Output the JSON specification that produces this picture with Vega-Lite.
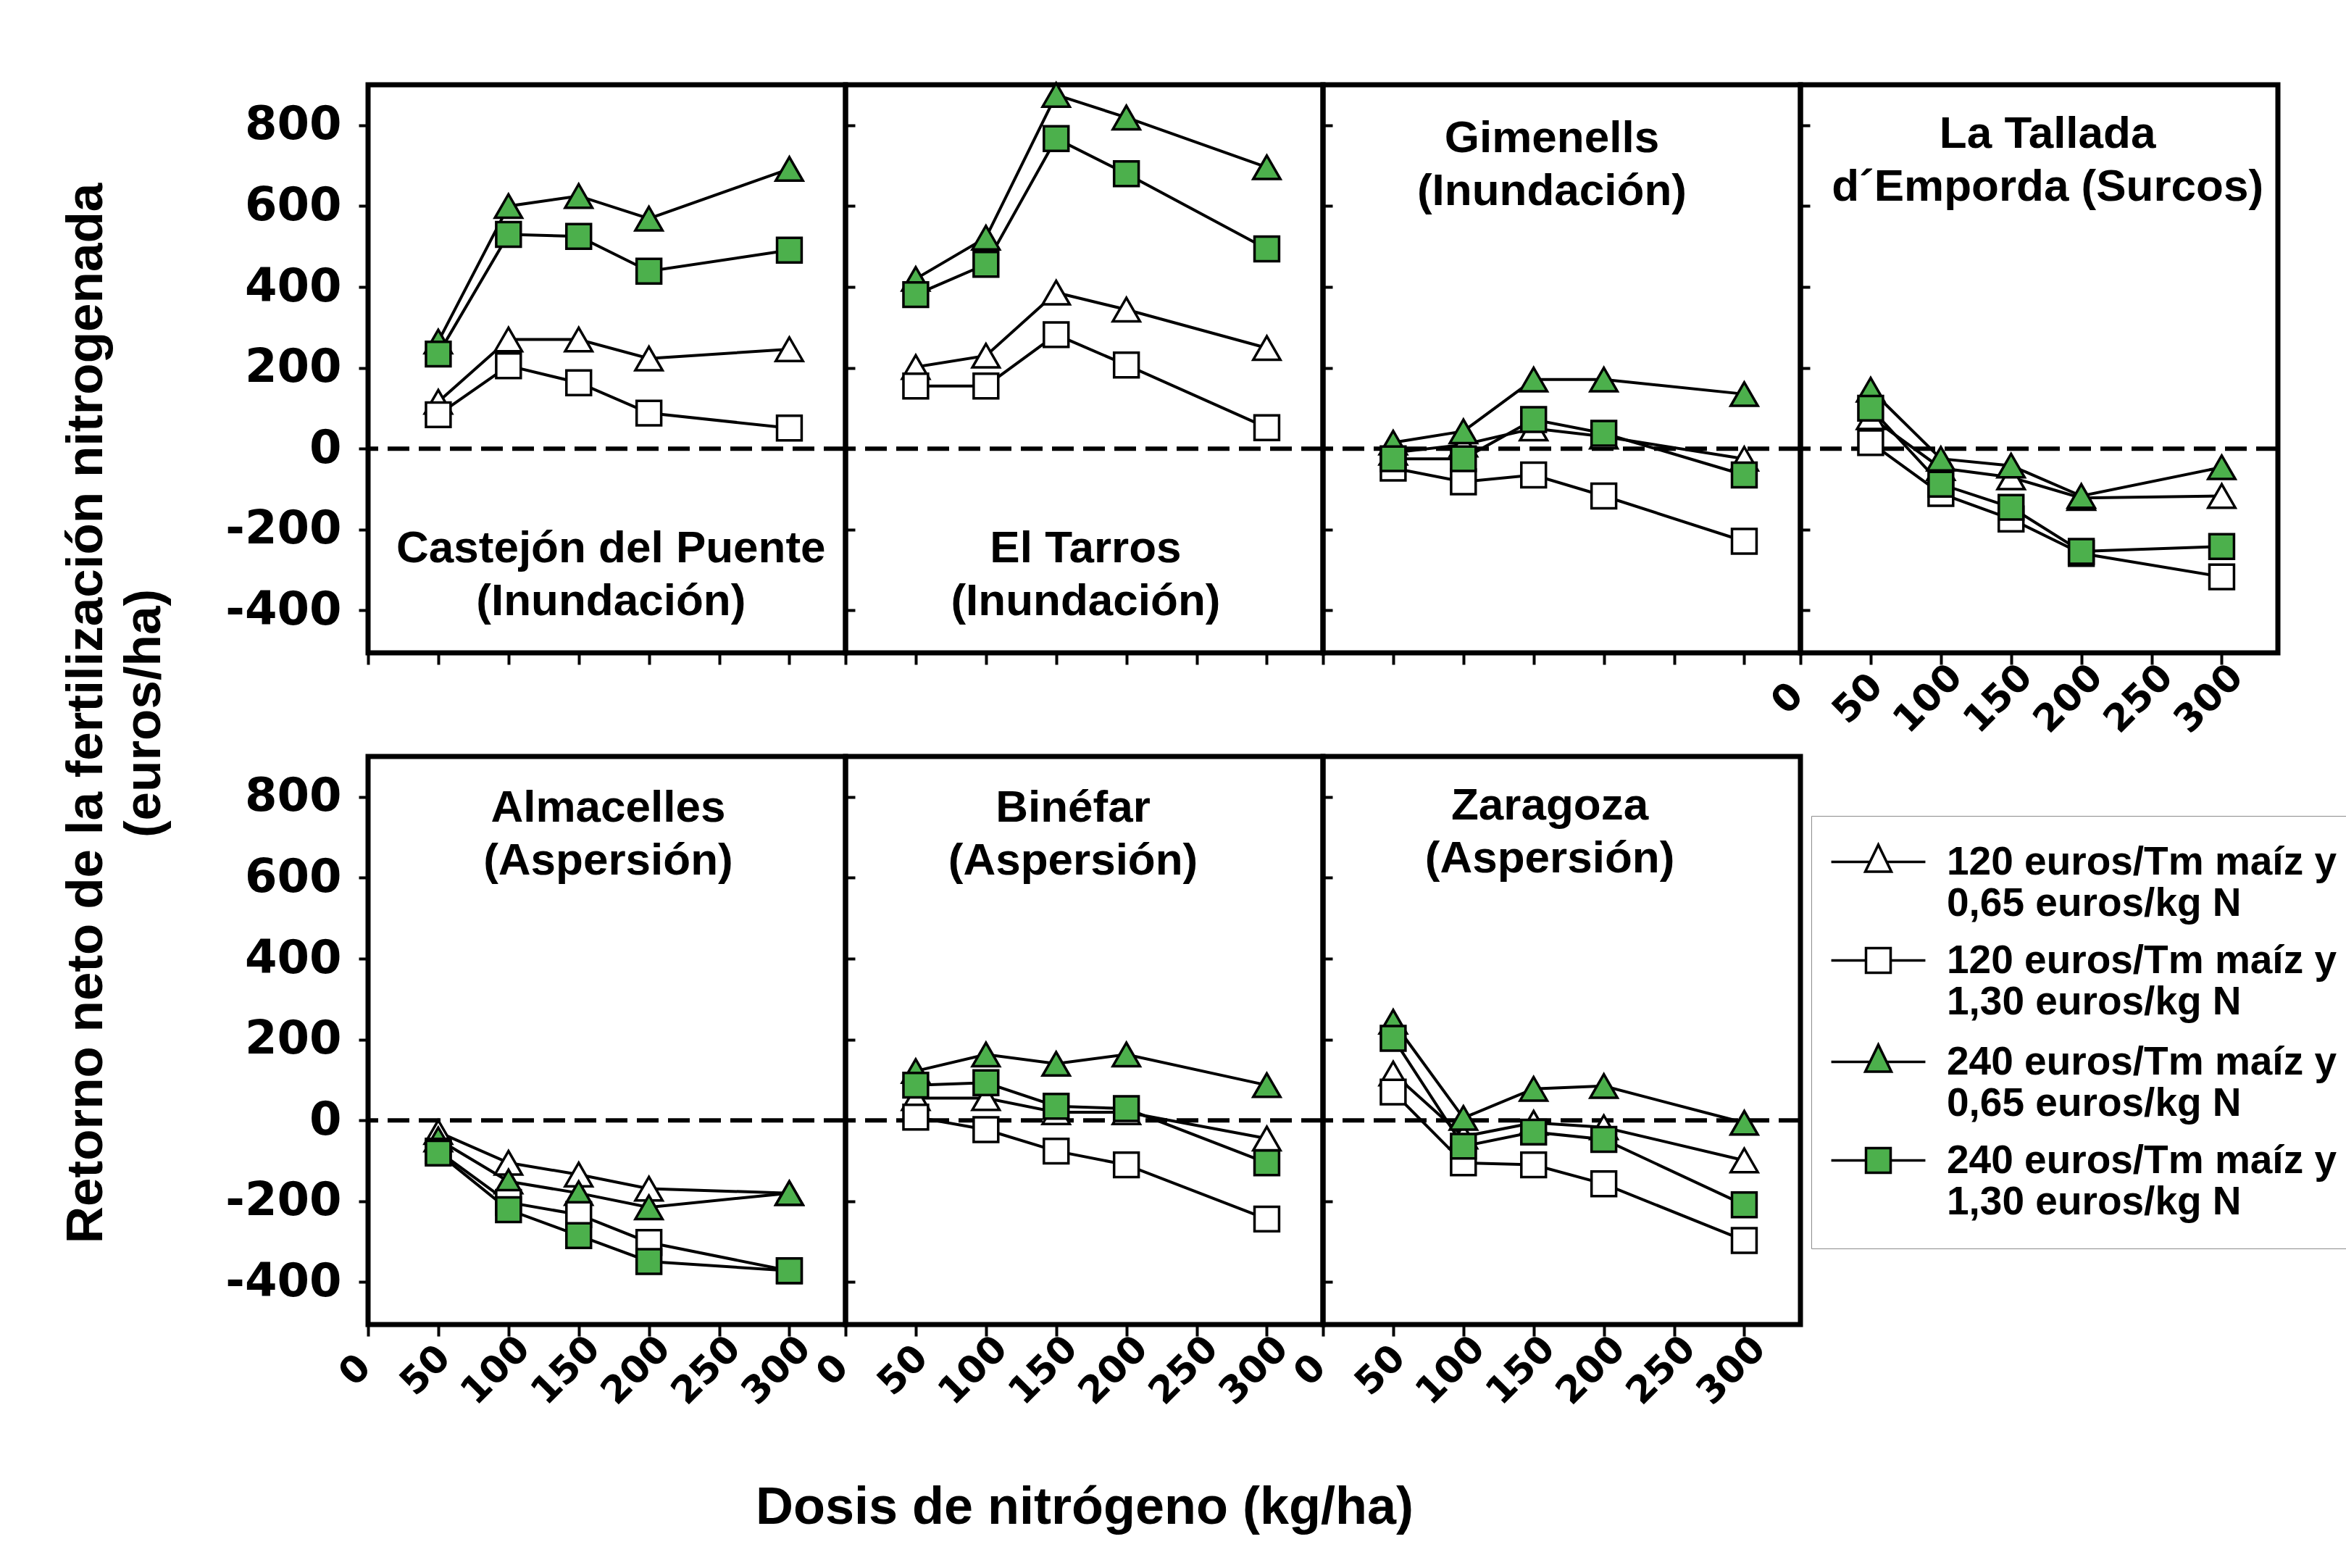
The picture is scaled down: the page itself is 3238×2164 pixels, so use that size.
{
  "$schema": "https://vega.github.io/schema/vega-lite/v6.json",
  "autosize": {"type": "pad"},
  "padding": {"left": 79, "top": 104, "right": 0, "bottom": 0},
  "background": "white",
  "bounds": "flush",
  "columns": 4,
  "spacing": {"row": 143, "column": 0},
  "datasets": {
    "d": [
      {"sitio": "Castejón del Puente", "serie": "120 euros/Tm maíz y 0,65 euros/kg N", "dosis": 50, "retorno": 116},
      {"sitio": "Castejón del Puente", "serie": "120 euros/Tm maíz y 0,65 euros/kg N", "dosis": 100, "retorno": 270},
      {"sitio": "Castejón del Puente", "serie": "120 euros/Tm maíz y 0,65 euros/kg N", "dosis": 150, "retorno": 270},
      {"sitio": "Castejón del Puente", "serie": "120 euros/Tm maíz y 0,65 euros/kg N", "dosis": 200, "retorno": 223},
      {"sitio": "Castejón del Puente", "serie": "120 euros/Tm maíz y 0,65 euros/kg N", "dosis": 300, "retorno": 246},
      {"sitio": "Castejón del Puente", "serie": "120 euros/Tm maíz y 1,30 euros/kg N", "dosis": 50, "retorno": 84},
      {"sitio": "Castejón del Puente", "serie": "120 euros/Tm maíz y 1,30 euros/kg N", "dosis": 100, "retorno": 205},
      {"sitio": "Castejón del Puente", "serie": "120 euros/Tm maíz y 1,30 euros/kg N", "dosis": 150, "retorno": 163},
      {"sitio": "Castejón del Puente", "serie": "120 euros/Tm maíz y 1,30 euros/kg N", "dosis": 200, "retorno": 88},
      {"sitio": "Castejón del Puente", "serie": "120 euros/Tm maíz y 1,30 euros/kg N", "dosis": 300, "retorno": 51},
      {"sitio": "Castejón del Puente", "serie": "240 euros/Tm maíz y 0,65 euros/kg N", "dosis": 50, "retorno": 265},
      {"sitio": "Castejón del Puente", "serie": "240 euros/Tm maíz y 0,65 euros/kg N", "dosis": 100, "retorno": 600},
      {"sitio": "Castejón del Puente", "serie": "240 euros/Tm maíz y 0,65 euros/kg N", "dosis": 150, "retorno": 625},
      {"sitio": "Castejón del Puente", "serie": "240 euros/Tm maíz y 0,65 euros/kg N", "dosis": 200, "retorno": 569},
      {"sitio": "Castejón del Puente", "serie": "240 euros/Tm maíz y 0,65 euros/kg N", "dosis": 300, "retorno": 692},
      {"sitio": "Castejón del Puente", "serie": "240 euros/Tm maíz y 1,30 euros/kg N", "dosis": 50, "retorno": 234},
      {"sitio": "Castejón del Puente", "serie": "240 euros/Tm maíz y 1,30 euros/kg N", "dosis": 100, "retorno": 530},
      {"sitio": "Castejón del Puente", "serie": "240 euros/Tm maíz y 1,30 euros/kg N", "dosis": 150, "retorno": 525},
      {"sitio": "Castejón del Puente", "serie": "240 euros/Tm maíz y 1,30 euros/kg N", "dosis": 200, "retorno": 439},
      {"sitio": "Castejón del Puente", "serie": "240 euros/Tm maíz y 1,30 euros/kg N", "dosis": 300, "retorno": 491},

      {"sitio": "El Tarros", "serie": "120 euros/Tm maíz y 0,65 euros/kg N", "dosis": 50, "retorno": 202},
      {"sitio": "El Tarros", "serie": "120 euros/Tm maíz y 0,65 euros/kg N", "dosis": 100, "retorno": 230},
      {"sitio": "El Tarros", "serie": "120 euros/Tm maíz y 0,65 euros/kg N", "dosis": 150, "retorno": 386},
      {"sitio": "El Tarros", "serie": "120 euros/Tm maíz y 0,65 euros/kg N", "dosis": 200, "retorno": 344},
      {"sitio": "El Tarros", "serie": "120 euros/Tm maíz y 0,65 euros/kg N", "dosis": 300, "retorno": 249},
      {"sitio": "El Tarros", "serie": "120 euros/Tm maíz y 1,30 euros/kg N", "dosis": 50, "retorno": 155},
      {"sitio": "El Tarros", "serie": "120 euros/Tm maíz y 1,30 euros/kg N", "dosis": 100, "retorno": 155},
      {"sitio": "El Tarros", "serie": "120 euros/Tm maíz y 1,30 euros/kg N", "dosis": 150, "retorno": 282},
      {"sitio": "El Tarros", "serie": "120 euros/Tm maíz y 1,30 euros/kg N", "dosis": 200, "retorno": 207},
      {"sitio": "El Tarros", "serie": "120 euros/Tm maíz y 1,30 euros/kg N", "dosis": 300, "retorno": 52},
      {"sitio": "El Tarros", "serie": "240 euros/Tm maíz y 0,65 euros/kg N", "dosis": 50, "retorno": 420},
      {"sitio": "El Tarros", "serie": "240 euros/Tm maíz y 0,65 euros/kg N", "dosis": 100, "retorno": 522},
      {"sitio": "El Tarros", "serie": "240 euros/Tm maíz y 0,65 euros/kg N", "dosis": 150, "retorno": 875},
      {"sitio": "El Tarros", "serie": "240 euros/Tm maíz y 0,65 euros/kg N", "dosis": 200, "retorno": 819},
      {"sitio": "El Tarros", "serie": "240 euros/Tm maíz y 0,65 euros/kg N", "dosis": 300, "retorno": 696},
      {"sitio": "El Tarros", "serie": "240 euros/Tm maíz y 1,30 euros/kg N", "dosis": 50, "retorno": 381},
      {"sitio": "El Tarros", "serie": "240 euros/Tm maíz y 1,30 euros/kg N", "dosis": 100, "retorno": 456},
      {"sitio": "El Tarros", "serie": "240 euros/Tm maíz y 1,30 euros/kg N", "dosis": 150, "retorno": 767},
      {"sitio": "El Tarros", "serie": "240 euros/Tm maíz y 1,30 euros/kg N", "dosis": 200, "retorno": 680},
      {"sitio": "El Tarros", "serie": "240 euros/Tm maíz y 1,30 euros/kg N", "dosis": 300, "retorno": 494},

      {"sitio": "Gimenells", "serie": "120 euros/Tm maíz y 0,65 euros/kg N", "dosis": 50, "retorno": -10},
      {"sitio": "Gimenells", "serie": "120 euros/Tm maíz y 0,65 euros/kg N", "dosis": 100, "retorno": 10},
      {"sitio": "Gimenells", "serie": "120 euros/Tm maíz y 0,65 euros/kg N", "dosis": 150, "retorno": 50},
      {"sitio": "Gimenells", "serie": "120 euros/Tm maíz y 0,65 euros/kg N", "dosis": 200, "retorno": 30},
      {"sitio": "Gimenells", "serie": "120 euros/Tm maíz y 0,65 euros/kg N", "dosis": 300, "retorno": -25},
      {"sitio": "Gimenells", "serie": "120 euros/Tm maíz y 1,30 euros/kg N", "dosis": 50, "retorno": -48},
      {"sitio": "Gimenells", "serie": "120 euros/Tm maíz y 1,30 euros/kg N", "dosis": 100, "retorno": -82},
      {"sitio": "Gimenells", "serie": "120 euros/Tm maíz y 1,30 euros/kg N", "dosis": 150, "retorno": -65},
      {"sitio": "Gimenells", "serie": "120 euros/Tm maíz y 1,30 euros/kg N", "dosis": 200, "retorno": -117},
      {"sitio": "Gimenells", "serie": "120 euros/Tm maíz y 1,30 euros/kg N", "dosis": 300, "retorno": -229},
      {"sitio": "Gimenells", "serie": "240 euros/Tm maíz y 0,65 euros/kg N", "dosis": 50, "retorno": 15},
      {"sitio": "Gimenells", "serie": "240 euros/Tm maíz y 0,65 euros/kg N", "dosis": 100, "retorno": 43},
      {"sitio": "Gimenells", "serie": "240 euros/Tm maíz y 0,65 euros/kg N", "dosis": 150, "retorno": 171},
      {"sitio": "Gimenells", "serie": "240 euros/Tm maíz y 0,65 euros/kg N", "dosis": 200, "retorno": 171},
      {"sitio": "Gimenells", "serie": "240 euros/Tm maíz y 0,65 euros/kg N", "dosis": 300, "retorno": 135},
      {"sitio": "Gimenells", "serie": "240 euros/Tm maíz y 1,30 euros/kg N", "dosis": 50, "retorno": -25},
      {"sitio": "Gimenells", "serie": "240 euros/Tm maíz y 1,30 euros/kg N", "dosis": 100, "retorno": -25},
      {"sitio": "Gimenells", "serie": "240 euros/Tm maíz y 1,30 euros/kg N", "dosis": 150, "retorno": 72},
      {"sitio": "Gimenells", "serie": "240 euros/Tm maíz y 1,30 euros/kg N", "dosis": 200, "retorno": 38},
      {"sitio": "Gimenells", "serie": "240 euros/Tm maíz y 1,30 euros/kg N", "dosis": 300, "retorno": -65},

      {"sitio": "La Tallada", "serie": "120 euros/Tm maíz y 0,65 euros/kg N", "dosis": 50, "retorno": 78},
      {"sitio": "La Tallada", "serie": "120 euros/Tm maíz y 0,65 euros/kg N", "dosis": 100, "retorno": -48},
      {"sitio": "La Tallada", "serie": "120 euros/Tm maíz y 0,65 euros/kg N", "dosis": 150, "retorno": -71},
      {"sitio": "La Tallada", "serie": "120 euros/Tm maíz y 0,65 euros/kg N", "dosis": 200, "retorno": -122},
      {"sitio": "La Tallada", "serie": "120 euros/Tm maíz y 0,65 euros/kg N", "dosis": 300, "retorno": -117},
      {"sitio": "La Tallada", "serie": "120 euros/Tm maíz y 1,30 euros/kg N", "dosis": 50, "retorno": 15},
      {"sitio": "La Tallada", "serie": "120 euros/Tm maíz y 1,30 euros/kg N", "dosis": 100, "retorno": -111},
      {"sitio": "La Tallada", "serie": "120 euros/Tm maíz y 1,30 euros/kg N", "dosis": 150, "retorno": -174},
      {"sitio": "La Tallada", "serie": "120 euros/Tm maíz y 1,30 euros/kg N", "dosis": 200, "retorno": -259},
      {"sitio": "La Tallada", "serie": "120 euros/Tm maíz y 1,30 euros/kg N", "dosis": 300, "retorno": -317},
      {"sitio": "La Tallada", "serie": "240 euros/Tm maíz y 0,65 euros/kg N", "dosis": 50, "retorno": 146},
      {"sitio": "La Tallada", "serie": "240 euros/Tm maíz y 0,65 euros/kg N", "dosis": 100, "retorno": -25},
      {"sitio": "La Tallada", "serie": "240 euros/Tm maíz y 0,65 euros/kg N", "dosis": 150, "retorno": -42},
      {"sitio": "La Tallada", "serie": "240 euros/Tm maíz y 0,65 euros/kg N", "dosis": 200, "retorno": -117},
      {"sitio": "La Tallada", "serie": "240 euros/Tm maíz y 0,65 euros/kg N", "dosis": 300, "retorno": -46},
      {"sitio": "La Tallada", "serie": "240 euros/Tm maíz y 1,30 euros/kg N", "dosis": 50, "retorno": 100},
      {"sitio": "La Tallada", "serie": "240 euros/Tm maíz y 1,30 euros/kg N", "dosis": 100, "retorno": -88},
      {"sitio": "La Tallada", "serie": "240 euros/Tm maíz y 1,30 euros/kg N", "dosis": 150, "retorno": -145},
      {"sitio": "La Tallada", "serie": "240 euros/Tm maíz y 1,30 euros/kg N", "dosis": 200, "retorno": -254},
      {"sitio": "La Tallada", "serie": "240 euros/Tm maíz y 1,30 euros/kg N", "dosis": 300, "retorno": -242},

      {"sitio": "Almacelles", "serie": "120 euros/Tm maíz y 0,65 euros/kg N", "dosis": 50, "retorno": -29},
      {"sitio": "Almacelles", "serie": "120 euros/Tm maíz y 0,65 euros/kg N", "dosis": 100, "retorno": -105},
      {"sitio": "Almacelles", "serie": "120 euros/Tm maíz y 0,65 euros/kg N", "dosis": 150, "retorno": -134},
      {"sitio": "Almacelles", "serie": "120 euros/Tm maíz y 0,65 euros/kg N", "dosis": 200, "retorno": -169},
      {"sitio": "Almacelles", "serie": "120 euros/Tm maíz y 0,65 euros/kg N", "dosis": 300, "retorno": -180},
      {"sitio": "Almacelles", "serie": "120 euros/Tm maíz y 1,30 euros/kg N", "dosis": 50, "retorno": -76},
      {"sitio": "Almacelles", "serie": "120 euros/Tm maíz y 1,30 euros/kg N", "dosis": 100, "retorno": -203},
      {"sitio": "Almacelles", "serie": "120 euros/Tm maíz y 1,30 euros/kg N", "dosis": 150, "retorno": -233},
      {"sitio": "Almacelles", "serie": "120 euros/Tm maíz y 1,30 euros/kg N", "dosis": 200, "retorno": -302},
      {"sitio": "Almacelles", "serie": "120 euros/Tm maíz y 1,30 euros/kg N", "dosis": 300, "retorno": -372},
      {"sitio": "Almacelles", "serie": "240 euros/Tm maíz y 0,65 euros/kg N", "dosis": 50, "retorno": -47},
      {"sitio": "Almacelles", "serie": "240 euros/Tm maíz y 0,65 euros/kg N", "dosis": 100, "retorno": -151},
      {"sitio": "Almacelles", "serie": "240 euros/Tm maíz y 0,65 euros/kg N", "dosis": 150, "retorno": -180},
      {"sitio": "Almacelles", "serie": "240 euros/Tm maíz y 0,65 euros/kg N", "dosis": 200, "retorno": -215},
      {"sitio": "Almacelles", "serie": "240 euros/Tm maíz y 0,65 euros/kg N", "dosis": 300, "retorno": -180},
      {"sitio": "Almacelles", "serie": "240 euros/Tm maíz y 1,30 euros/kg N", "dosis": 50, "retorno": -81},
      {"sitio": "Almacelles", "serie": "240 euros/Tm maíz y 1,30 euros/kg N", "dosis": 100, "retorno": -221},
      {"sitio": "Almacelles", "serie": "240 euros/Tm maíz y 1,30 euros/kg N", "dosis": 150, "retorno": -285},
      {"sitio": "Almacelles", "serie": "240 euros/Tm maíz y 1,30 euros/kg N", "dosis": 200, "retorno": -349},
      {"sitio": "Almacelles", "serie": "240 euros/Tm maíz y 1,30 euros/kg N", "dosis": 300, "retorno": -372},

      {"sitio": "Binéfar", "serie": "120 euros/Tm maíz y 0,65 euros/kg N", "dosis": 50, "retorno": 55},
      {"sitio": "Binéfar", "serie": "120 euros/Tm maíz y 0,65 euros/kg N", "dosis": 100, "retorno": 55},
      {"sitio": "Binéfar", "serie": "120 euros/Tm maíz y 0,65 euros/kg N", "dosis": 150, "retorno": 20},
      {"sitio": "Binéfar", "serie": "120 euros/Tm maíz y 0,65 euros/kg N", "dosis": 200, "retorno": 20},
      {"sitio": "Binéfar", "serie": "120 euros/Tm maíz y 0,65 euros/kg N", "dosis": 300, "retorno": -45},
      {"sitio": "Binéfar", "serie": "120 euros/Tm maíz y 1,30 euros/kg N", "dosis": 50, "retorno": 8},
      {"sitio": "Binéfar", "serie": "120 euros/Tm maíz y 1,30 euros/kg N", "dosis": 100, "retorno": -23},
      {"sitio": "Binéfar", "serie": "120 euros/Tm maíz y 1,30 euros/kg N", "dosis": 150, "retorno": -76},
      {"sitio": "Binéfar", "serie": "120 euros/Tm maíz y 1,30 euros/kg N", "dosis": 200, "retorno": -110},
      {"sitio": "Binéfar", "serie": "120 euros/Tm maíz y 1,30 euros/kg N", "dosis": 300, "retorno": -244},
      {"sitio": "Binéfar", "serie": "240 euros/Tm maíz y 0,65 euros/kg N", "dosis": 50, "retorno": 122},
      {"sitio": "Binéfar", "serie": "240 euros/Tm maíz y 0,65 euros/kg N", "dosis": 100, "retorno": 163},
      {"sitio": "Binéfar", "serie": "240 euros/Tm maíz y 0,65 euros/kg N", "dosis": 150, "retorno": 140},
      {"sitio": "Binéfar", "serie": "240 euros/Tm maíz y 0,65 euros/kg N", "dosis": 200, "retorno": 163},
      {"sitio": "Binéfar", "serie": "240 euros/Tm maíz y 0,65 euros/kg N", "dosis": 300, "retorno": 87},
      {"sitio": "Binéfar", "serie": "240 euros/Tm maíz y 1,30 euros/kg N", "dosis": 50, "retorno": 87},
      {"sitio": "Binéfar", "serie": "240 euros/Tm maíz y 1,30 euros/kg N", "dosis": 100, "retorno": 93},
      {"sitio": "Binéfar", "serie": "240 euros/Tm maíz y 1,30 euros/kg N", "dosis": 150, "retorno": 35},
      {"sitio": "Binéfar", "serie": "240 euros/Tm maíz y 1,30 euros/kg N", "dosis": 200, "retorno": 29},
      {"sitio": "Binéfar", "serie": "240 euros/Tm maíz y 1,30 euros/kg N", "dosis": 300, "retorno": -105},

      {"sitio": "Zaragoza", "serie": "120 euros/Tm maíz y 0,65 euros/kg N", "dosis": 50, "retorno": 116},
      {"sitio": "Zaragoza", "serie": "120 euros/Tm maíz y 0,65 euros/kg N", "dosis": 100, "retorno": -40},
      {"sitio": "Zaragoza", "serie": "120 euros/Tm maíz y 0,65 euros/kg N", "dosis": 150, "retorno": -6},
      {"sitio": "Zaragoza", "serie": "120 euros/Tm maíz y 0,65 euros/kg N", "dosis": 200, "retorno": -17},
      {"sitio": "Zaragoza", "serie": "120 euros/Tm maíz y 0,65 euros/kg N", "dosis": 300, "retorno": -99},
      {"sitio": "Zaragoza", "serie": "120 euros/Tm maíz y 1,30 euros/kg N", "dosis": 50, "retorno": 70},
      {"sitio": "Zaragoza", "serie": "120 euros/Tm maíz y 1,30 euros/kg N", "dosis": 100, "retorno": -105},
      {"sitio": "Zaragoza", "serie": "120 euros/Tm maíz y 1,30 euros/kg N", "dosis": 150, "retorno": -110},
      {"sitio": "Zaragoza", "serie": "120 euros/Tm maíz y 1,30 euros/kg N", "dosis": 200, "retorno": -157},
      {"sitio": "Zaragoza", "serie": "120 euros/Tm maíz y 1,30 euros/kg N", "dosis": 300, "retorno": -297},
      {"sitio": "Zaragoza", "serie": "240 euros/Tm maíz y 0,65 euros/kg N", "dosis": 50, "retorno": 244},
      {"sitio": "Zaragoza", "serie": "240 euros/Tm maíz y 0,65 euros/kg N", "dosis": 100, "retorno": 6},
      {"sitio": "Zaragoza", "serie": "240 euros/Tm maíz y 0,65 euros/kg N", "dosis": 150, "retorno": 78},
      {"sitio": "Zaragoza", "serie": "240 euros/Tm maíz y 0,65 euros/kg N", "dosis": 200, "retorno": 85},
      {"sitio": "Zaragoza", "serie": "240 euros/Tm maíz y 0,65 euros/kg N", "dosis": 300, "retorno": -6},
      {"sitio": "Zaragoza", "serie": "240 euros/Tm maíz y 1,30 euros/kg N", "dosis": 50, "retorno": 203},
      {"sitio": "Zaragoza", "serie": "240 euros/Tm maíz y 1,30 euros/kg N", "dosis": 100, "retorno": -64},
      {"sitio": "Zaragoza", "serie": "240 euros/Tm maíz y 1,30 euros/kg N", "dosis": 150, "retorno": -29},
      {"sitio": "Zaragoza", "serie": "240 euros/Tm maíz y 1,30 euros/kg N", "dosis": 200, "retorno": -47},
      {"sitio": "Zaragoza", "serie": "240 euros/Tm maíz y 1,30 euros/kg N", "dosis": 300, "retorno": -209}
    ]
  },
  "data": {"name": "d"},
  "concat": [
    {
      "width": 659, "height": 784,
      "transform": [{"filter": {"field": "sitio", "equal": "Castejón del Puente"}}],
      "layer": [
        {"mark": {"type": "line", "color": "black", "strokeWidth": 4},
         "encoding": {
           "x": {"field": "dosis", "type": "quantitative", "scale": {"domain": [0, 340], "nice": false, "zero": false},
                 "axis": {"values": [0, 50, 100, 150, 200, 250, 300], "labels": false, "title": null}},
           "y": {"field": "retorno", "type": "quantitative", "scale": {"domain": [-505, 900], "nice": false, "zero": false},
                 "axis": {"values": [-400, -200, 0, 200, 400, 600, 800], "labelExpr": "replace(datum.label, '−', '-')",
                          "title": ["Retorno neto de la fertilización nitrogenada", "(euros/ha)\u00a0\u00a0\u00a0\u00a0\u00a0\u00a0\u00a0\u00a0\u00a0\u00a0\u00a0\u00a0\u00a0\u00a0\u00a0\u00a0\u00a0\u00a0\u00a0\u00a0\u00a0\u00a0"],
                          "titleX": -368, "titleY": 867, "titleAngle": -90, "titleAlign": "center", "titleBaseline": "alphabetic",
                          "titleFontSize": 71, "titleLineHeight": 80}},
           "detail": {"field": "serie"}}},
        {"transform": [{"aggregate": [{"op": "count", "as": "n"}]}],
         "mark": {"type": "rule", "strokeDash": [30, 13], "strokeWidth": 6, "color": "black"},
         "encoding": {"y": {"datum": 0, "type": "quantitative"}}},
        {"transform": [{"filter": {"field": "serie", "oneOf": ["120 euros/Tm maíz y 0,65 euros/kg N", "240 euros/Tm maíz y 0,65 euros/kg N"]}}],
         "mark": {"type": "point", "shape": "triangle-up", "filled": true, "stroke": "black", "strokeWidth": 3.5, "size": 1400, "opacity": 1},
         "encoding": {"x": {"field": "dosis", "type": "quantitative"}, "y": {"field": "retorno", "type": "quantitative"},
           "fill": {"field": "serie", "type": "nominal", "scale": {"domain": ["120 euros/Tm maíz y 0,65 euros/kg N", "120 euros/Tm maíz y 1,30 euros/kg N", "240 euros/Tm maíz y 0,65 euros/kg N", "240 euros/Tm maíz y 1,30 euros/kg N"], "range": ["white", "white", "#4cb04c", "#4cb04c"]}}}},
        {"transform": [{"filter": {"field": "serie", "oneOf": ["120 euros/Tm maíz y 1,30 euros/kg N", "240 euros/Tm maíz y 1,30 euros/kg N"]}}],
         "mark": {"type": "point", "shape": "square", "filled": true, "stroke": "black", "strokeWidth": 3.5, "size": 1150, "opacity": 1},
         "encoding": {"x": {"field": "dosis", "type": "quantitative"}, "y": {"field": "retorno", "type": "quantitative"},
           "fill": {"field": "serie", "type": "nominal", "scale": {"domain": ["120 euros/Tm maíz y 0,65 euros/kg N", "120 euros/Tm maíz y 1,30 euros/kg N", "240 euros/Tm maíz y 0,65 euros/kg N", "240 euros/Tm maíz y 1,30 euros/kg N"], "range": ["white", "white", "#4cb04c", "#4cb04c"]}}}},
        {"transform": [{"aggregate": [{"op": "count", "as": "n"}]}],
         "mark": {"type": "text", "text": ["Castejón del Puente", "(Inundación)"], "font": "Liberation Sans", "fontSize": 62, "fontWeight": "bold", "align": "center", "baseline": "alphabetic", "lineHeight": 73, "color": "black"},
         "encoding": {"x": {"datum": 173, "type": "quantitative"}, "y": {"datum": -281, "type": "quantitative"}}},
        {"transform": [{"filter": "false"}],
         "mark": {"type": "point", "filled": true, "stroke": "black", "strokeWidth": 3.5, "size": 1156},
         "encoding": {
           "fill": {"field": "serie", "type": "nominal", "scale": {"domain": ["120 euros/Tm maíz y 0,65 euros/kg N", "120 euros/Tm maíz y 1,30 euros/kg N", "240 euros/Tm maíz y 0,65 euros/kg N", "240 euros/Tm maíz y 1,30 euros/kg N"], "range": ["white", "white", "#4cb04c", "#4cb04c"]},
                    "legend": {"orient": "none", "legendX": 1992, "legendY": 1009, "title": null, "direction": "vertical",
                               "labelExpr": "[slice(datum.label, 0, 19), slice(datum.label, 20)]",
                               "labelFont": "Liberation Sans", "labelFontSize": 55, "labelFontWeight": "bold", "labelColor": "black",
                               "labelBaseline": "middle", "labelOffset": 67, "labelLimit": 3000,
                               "symbolSize": 1156, "symbolStrokeWidth": 3.5, "symbolStrokeColor": "black", "symbolOffset": 29,
                               "strokeColor": "#8c8c8c", "fillColor": "white", "padding": 36, "rowPadding": 23}},
           "shape": {"field": "serie", "type": "nominal",
                     "scale": {"domain": ["120 euros/Tm maíz y 0,65 euros/kg N", "120 euros/Tm maíz y 1,30 euros/kg N", "240 euros/Tm maíz y 0,65 euros/kg N", "240 euros/Tm maíz y 1,30 euros/kg N"],
                               "range": ["M-3.82,0H-0.67M0.67,0H3.82M0,-1.39L1.06,0.8L-1.06,0.8Z", "M-3.82,0H-1M1,0H3.82M-1,-1H1V1H-1Z", "M-3.82,0H-0.67M0.67,0H3.82M0,-1.39L1.06,0.8L-1.06,0.8Z", "M-3.82,0H-1M1,0H3.82M-1,-1H1V1H-1Z"]},
                     "legend": {"orient": "none", "legendX": 1992, "legendY": 1009, "title": null, "direction": "vertical",
                               "labelExpr": "[slice(datum.label, 0, 19), slice(datum.label, 20)]",
                               "labelFont": "Liberation Sans", "labelFontSize": 55, "labelFontWeight": "bold", "labelColor": "black",
                               "labelBaseline": "middle", "labelOffset": 67, "labelLimit": 3000,
                               "symbolSize": 1156, "symbolStrokeWidth": 3.5, "symbolStrokeColor": "black", "symbolOffset": 29,
                               "strokeColor": "#8c8c8c", "fillColor": "white", "padding": 36, "rowPadding": 23}}}}
      ]
    },
    {
      "width": 659, "height": 784,
      "transform": [{"filter": {"field": "sitio", "equal": "El Tarros"}}],
      "layer": [
        {"mark": {"type": "line", "color": "black", "strokeWidth": 4},
         "encoding": {
           "x": {"field": "dosis", "type": "quantitative", "scale": {"domain": [0, 340], "nice": false, "zero": false},
                 "axis": {"values": [0, 50, 100, 150, 200, 250, 300], "labels": false, "title": null}},
           "y": {"field": "retorno", "type": "quantitative", "scale": {"domain": [-505, 900], "nice": false, "zero": false},
                 "axis": {"values": [-400, -200, 0, 200, 400, 600, 800], "labels": false, "tickSize": -13, "title": null}},
           "detail": {"field": "serie"}}},
        {"transform": [{"aggregate": [{"op": "count", "as": "n"}]}],
         "mark": {"type": "rule", "strokeDash": [30, 13], "strokeWidth": 6, "color": "black"},
         "encoding": {"y": {"datum": 0, "type": "quantitative"}}},
        {"transform": [{"filter": {"field": "serie", "oneOf": ["120 euros/Tm maíz y 0,65 euros/kg N", "240 euros/Tm maíz y 0,65 euros/kg N"]}}],
         "mark": {"type": "point", "shape": "triangle-up", "filled": true, "stroke": "black", "strokeWidth": 3.5, "size": 1400, "opacity": 1},
         "encoding": {"x": {"field": "dosis", "type": "quantitative"}, "y": {"field": "retorno", "type": "quantitative"},
           "fill": {"field": "serie", "type": "nominal", "scale": {"domain": ["120 euros/Tm maíz y 0,65 euros/kg N", "120 euros/Tm maíz y 1,30 euros/kg N", "240 euros/Tm maíz y 0,65 euros/kg N", "240 euros/Tm maíz y 1,30 euros/kg N"], "range": ["white", "white", "#4cb04c", "#4cb04c"]}}}},
        {"transform": [{"filter": {"field": "serie", "oneOf": ["120 euros/Tm maíz y 1,30 euros/kg N", "240 euros/Tm maíz y 1,30 euros/kg N"]}}],
         "mark": {"type": "point", "shape": "square", "filled": true, "stroke": "black", "strokeWidth": 3.5, "size": 1150, "opacity": 1},
         "encoding": {"x": {"field": "dosis", "type": "quantitative"}, "y": {"field": "retorno", "type": "quantitative"},
           "fill": {"field": "serie", "type": "nominal", "scale": {"domain": ["120 euros/Tm maíz y 0,65 euros/kg N", "120 euros/Tm maíz y 1,30 euros/kg N", "240 euros/Tm maíz y 0,65 euros/kg N", "240 euros/Tm maíz y 1,30 euros/kg N"], "range": ["white", "white", "#4cb04c", "#4cb04c"]}}}},
        {"transform": [{"aggregate": [{"op": "count", "as": "n"}]}],
         "mark": {"type": "text", "text": ["El Tarros", "(Inundación)"], "font": "Liberation Sans", "fontSize": 62, "fontWeight": "bold", "align": "center", "baseline": "alphabetic", "lineHeight": 73, "color": "black"},
         "encoding": {"x": {"datum": 171, "type": "quantitative"}, "y": {"datum": -281, "type": "quantitative"}}}
      ]
    },
    {
      "width": 659, "height": 784,
      "transform": [{"filter": {"field": "sitio", "equal": "Gimenells"}}],
      "layer": [
        {"mark": {"type": "line", "color": "black", "strokeWidth": 4},
         "encoding": {
           "x": {"field": "dosis", "type": "quantitative", "scale": {"domain": [0, 340], "nice": false, "zero": false},
                 "axis": {"values": [0, 50, 100, 150, 200, 250, 300], "labels": false, "title": null}},
           "y": {"field": "retorno", "type": "quantitative", "scale": {"domain": [-505, 900], "nice": false, "zero": false},
                 "axis": {"values": [-400, -200, 0, 200, 400, 600, 800], "labels": false, "tickSize": -13, "title": null}},
           "detail": {"field": "serie"}}},
        {"transform": [{"aggregate": [{"op": "count", "as": "n"}]}],
         "mark": {"type": "rule", "strokeDash": [30, 13], "strokeWidth": 6, "color": "black"},
         "encoding": {"y": {"datum": 0, "type": "quantitative"}}},
        {"transform": [{"filter": {"field": "serie", "oneOf": ["120 euros/Tm maíz y 0,65 euros/kg N", "240 euros/Tm maíz y 0,65 euros/kg N"]}}],
         "mark": {"type": "point", "shape": "triangle-up", "filled": true, "stroke": "black", "strokeWidth": 3.5, "size": 1400, "opacity": 1},
         "encoding": {"x": {"field": "dosis", "type": "quantitative"}, "y": {"field": "retorno", "type": "quantitative"},
           "fill": {"field": "serie", "type": "nominal", "scale": {"domain": ["120 euros/Tm maíz y 0,65 euros/kg N", "120 euros/Tm maíz y 1,30 euros/kg N", "240 euros/Tm maíz y 0,65 euros/kg N", "240 euros/Tm maíz y 1,30 euros/kg N"], "range": ["white", "white", "#4cb04c", "#4cb04c"]}}}},
        {"transform": [{"filter": {"field": "serie", "oneOf": ["120 euros/Tm maíz y 1,30 euros/kg N", "240 euros/Tm maíz y 1,30 euros/kg N"]}}],
         "mark": {"type": "point", "shape": "square", "filled": true, "stroke": "black", "strokeWidth": 3.5, "size": 1150, "opacity": 1},
         "encoding": {"x": {"field": "dosis", "type": "quantitative"}, "y": {"field": "retorno", "type": "quantitative"},
           "fill": {"field": "serie", "type": "nominal", "scale": {"domain": ["120 euros/Tm maíz y 0,65 euros/kg N", "120 euros/Tm maíz y 1,30 euros/kg N", "240 euros/Tm maíz y 0,65 euros/kg N", "240 euros/Tm maíz y 1,30 euros/kg N"], "range": ["white", "white", "#4cb04c", "#4cb04c"]}}}},
        {"transform": [{"aggregate": [{"op": "count", "as": "n"}]}],
         "mark": {"type": "text", "text": ["Gimenells", "(Inundación)"], "font": "Liberation Sans", "fontSize": 62, "fontWeight": "bold", "align": "center", "baseline": "alphabetic", "lineHeight": 73, "color": "black"},
         "encoding": {"x": {"datum": 163, "type": "quantitative"}, "y": {"datum": 733, "type": "quantitative"}}}
      ]
    },
    {
      "width": 659, "height": 784,
      "transform": [{"filter": {"field": "sitio", "equal": "La Tallada"}}],
      "layer": [
        {"mark": {"type": "line", "color": "black", "strokeWidth": 4},
         "encoding": {
           "x": {"field": "dosis", "type": "quantitative", "scale": {"domain": [0, 340], "nice": false, "zero": false},
                 "axis": {"values": [0, 50, 100, 150, 200, 250, 300], "title": null}},
           "y": {"field": "retorno", "type": "quantitative", "scale": {"domain": [-505, 900], "nice": false, "zero": false},
                 "axis": {"values": [-400, -200, 0, 200, 400, 600, 800], "labels": false, "tickSize": -13, "title": null}},
           "detail": {"field": "serie"}}},
        {"transform": [{"aggregate": [{"op": "count", "as": "n"}]}],
         "mark": {"type": "rule", "strokeDash": [30, 13], "strokeWidth": 6, "color": "black"},
         "encoding": {"y": {"datum": 0, "type": "quantitative"}}},
        {"transform": [{"filter": {"field": "serie", "oneOf": ["120 euros/Tm maíz y 0,65 euros/kg N", "240 euros/Tm maíz y 0,65 euros/kg N"]}}],
         "mark": {"type": "point", "shape": "triangle-up", "filled": true, "stroke": "black", "strokeWidth": 3.5, "size": 1400, "opacity": 1},
         "encoding": {"x": {"field": "dosis", "type": "quantitative"}, "y": {"field": "retorno", "type": "quantitative"},
           "fill": {"field": "serie", "type": "nominal", "scale": {"domain": ["120 euros/Tm maíz y 0,65 euros/kg N", "120 euros/Tm maíz y 1,30 euros/kg N", "240 euros/Tm maíz y 0,65 euros/kg N", "240 euros/Tm maíz y 1,30 euros/kg N"], "range": ["white", "white", "#4cb04c", "#4cb04c"]}}}},
        {"transform": [{"filter": {"field": "serie", "oneOf": ["120 euros/Tm maíz y 1,30 euros/kg N", "240 euros/Tm maíz y 1,30 euros/kg N"]}}],
         "mark": {"type": "point", "shape": "square", "filled": true, "stroke": "black", "strokeWidth": 3.5, "size": 1150, "opacity": 1},
         "encoding": {"x": {"field": "dosis", "type": "quantitative"}, "y": {"field": "retorno", "type": "quantitative"},
           "fill": {"field": "serie", "type": "nominal", "scale": {"domain": ["120 euros/Tm maíz y 0,65 euros/kg N", "120 euros/Tm maíz y 1,30 euros/kg N", "240 euros/Tm maíz y 0,65 euros/kg N", "240 euros/Tm maíz y 1,30 euros/kg N"], "range": ["white", "white", "#4cb04c", "#4cb04c"]}}}},
        {"transform": [{"aggregate": [{"op": "count", "as": "n"}]}],
         "mark": {"type": "text", "text": ["La Tallada", "d´Emporda (Surcos)"], "font": "Liberation Sans", "fontSize": 62, "fontWeight": "bold", "align": "center", "baseline": "alphabetic", "lineHeight": 73, "color": "black"},
         "encoding": {"x": {"datum": 176, "type": "quantitative"}, "y": {"datum": 744, "type": "quantitative"}}}
      ]
    },
    {
      "width": 659, "height": 784,
      "transform": [{"filter": {"field": "sitio", "equal": "Almacelles"}}],
      "layer": [
        {"mark": {"type": "line", "color": "black", "strokeWidth": 4},
         "encoding": {
           "x": {"field": "dosis", "type": "quantitative", "scale": {"domain": [0, 340], "nice": false, "zero": false},
                 "axis": {"values": [0, 50, 100, 150, 200, 250, 300], "title": null}},
           "y": {"field": "retorno", "type": "quantitative", "scale": {"domain": [-505, 900], "nice": false, "zero": false},
                 "axis": {"values": [-400, -200, 0, 200, 400, 600, 800], "labelExpr": "replace(datum.label, '−', '-')", "title": null}},
           "detail": {"field": "serie"}}},
        {"transform": [{"aggregate": [{"op": "count", "as": "n"}]}],
         "mark": {"type": "rule", "strokeDash": [30, 13], "strokeWidth": 6, "color": "black"},
         "encoding": {"y": {"datum": 0, "type": "quantitative"}}},
        {"transform": [{"filter": {"field": "serie", "oneOf": ["120 euros/Tm maíz y 0,65 euros/kg N", "240 euros/Tm maíz y 0,65 euros/kg N"]}}],
         "mark": {"type": "point", "shape": "triangle-up", "filled": true, "stroke": "black", "strokeWidth": 3.5, "size": 1400, "opacity": 1},
         "encoding": {"x": {"field": "dosis", "type": "quantitative"}, "y": {"field": "retorno", "type": "quantitative"},
           "fill": {"field": "serie", "type": "nominal", "scale": {"domain": ["120 euros/Tm maíz y 0,65 euros/kg N", "120 euros/Tm maíz y 1,30 euros/kg N", "240 euros/Tm maíz y 0,65 euros/kg N", "240 euros/Tm maíz y 1,30 euros/kg N"], "range": ["white", "white", "#4cb04c", "#4cb04c"]}}}},
        {"transform": [{"filter": {"field": "serie", "oneOf": ["120 euros/Tm maíz y 1,30 euros/kg N", "240 euros/Tm maíz y 1,30 euros/kg N"]}}],
         "mark": {"type": "point", "shape": "square", "filled": true, "stroke": "black", "strokeWidth": 3.5, "size": 1150, "opacity": 1},
         "encoding": {"x": {"field": "dosis", "type": "quantitative"}, "y": {"field": "retorno", "type": "quantitative"},
           "fill": {"field": "serie", "type": "nominal", "scale": {"domain": ["120 euros/Tm maíz y 0,65 euros/kg N", "120 euros/Tm maíz y 1,30 euros/kg N", "240 euros/Tm maíz y 0,65 euros/kg N", "240 euros/Tm maíz y 1,30 euros/kg N"], "range": ["white", "white", "#4cb04c", "#4cb04c"]}}}},
        {"transform": [{"aggregate": [{"op": "count", "as": "n"}]}],
         "mark": {"type": "text", "text": ["Almacelles", "(Aspersión)"], "font": "Liberation Sans", "fontSize": 62, "fontWeight": "bold", "align": "center", "baseline": "alphabetic", "lineHeight": 73, "color": "black"},
         "encoding": {"x": {"datum": 171, "type": "quantitative"}, "y": {"datum": 739, "type": "quantitative"}}}
      ]
    },
    {
      "width": 659, "height": 784,
      "transform": [{"filter": {"field": "sitio", "equal": "Binéfar"}}],
      "layer": [
        {"mark": {"type": "line", "color": "black", "strokeWidth": 4},
         "encoding": {
           "x": {"field": "dosis", "type": "quantitative", "scale": {"domain": [0, 340], "nice": false, "zero": false},
                 "axis": {"values": [0, 50, 100, 150, 200, 250, 300], "title": "Dosis de nitrógeno (kg/ha)", "titleFontSize": 72, "titleY": 274, "titleBaseline": "alphabetic"}},
           "y": {"field": "retorno", "type": "quantitative", "scale": {"domain": [-505, 900], "nice": false, "zero": false},
                 "axis": {"values": [-400, -200, 0, 200, 400, 600, 800], "labels": false, "tickSize": -13, "title": null}},
           "detail": {"field": "serie"}}},
        {"transform": [{"aggregate": [{"op": "count", "as": "n"}]}],
         "mark": {"type": "rule", "strokeDash": [30, 13], "strokeWidth": 6, "color": "black"},
         "encoding": {"y": {"datum": 0, "type": "quantitative"}}},
        {"transform": [{"filter": {"field": "serie", "oneOf": ["120 euros/Tm maíz y 0,65 euros/kg N", "240 euros/Tm maíz y 0,65 euros/kg N"]}}],
         "mark": {"type": "point", "shape": "triangle-up", "filled": true, "stroke": "black", "strokeWidth": 3.5, "size": 1400, "opacity": 1},
         "encoding": {"x": {"field": "dosis", "type": "quantitative"}, "y": {"field": "retorno", "type": "quantitative"},
           "fill": {"field": "serie", "type": "nominal", "scale": {"domain": ["120 euros/Tm maíz y 0,65 euros/kg N", "120 euros/Tm maíz y 1,30 euros/kg N", "240 euros/Tm maíz y 0,65 euros/kg N", "240 euros/Tm maíz y 1,30 euros/kg N"], "range": ["white", "white", "#4cb04c", "#4cb04c"]}}}},
        {"transform": [{"filter": {"field": "serie", "oneOf": ["120 euros/Tm maíz y 1,30 euros/kg N", "240 euros/Tm maíz y 1,30 euros/kg N"]}}],
         "mark": {"type": "point", "shape": "square", "filled": true, "stroke": "black", "strokeWidth": 3.5, "size": 1150, "opacity": 1},
         "encoding": {"x": {"field": "dosis", "type": "quantitative"}, "y": {"field": "retorno", "type": "quantitative"},
           "fill": {"field": "serie", "type": "nominal", "scale": {"domain": ["120 euros/Tm maíz y 0,65 euros/kg N", "120 euros/Tm maíz y 1,30 euros/kg N", "240 euros/Tm maíz y 0,65 euros/kg N", "240 euros/Tm maíz y 1,30 euros/kg N"], "range": ["white", "white", "#4cb04c", "#4cb04c"]}}}},
        {"transform": [{"aggregate": [{"op": "count", "as": "n"}]}],
         "mark": {"type": "text", "text": ["Binéfar", "(Aspersión)"], "font": "Liberation Sans", "fontSize": 62, "fontWeight": "bold", "align": "center", "baseline": "alphabetic", "lineHeight": 73, "color": "black"},
         "encoding": {"x": {"datum": 162, "type": "quantitative"}, "y": {"datum": 739, "type": "quantitative"}}}
      ]
    },
    {
      "width": 659, "height": 784,
      "transform": [{"filter": {"field": "sitio", "equal": "Zaragoza"}}],
      "layer": [
        {"mark": {"type": "line", "color": "black", "strokeWidth": 4},
         "encoding": {
           "x": {"field": "dosis", "type": "quantitative", "scale": {"domain": [0, 340], "nice": false, "zero": false},
                 "axis": {"values": [0, 50, 100, 150, 200, 250, 300], "title": null}},
           "y": {"field": "retorno", "type": "quantitative", "scale": {"domain": [-505, 900], "nice": false, "zero": false},
                 "axis": {"values": [-400, -200, 0, 200, 400, 600, 800], "labels": false, "tickSize": -13, "title": null}},
           "detail": {"field": "serie"}}},
        {"transform": [{"aggregate": [{"op": "count", "as": "n"}]}],
         "mark": {"type": "rule", "strokeDash": [30, 13], "strokeWidth": 6, "color": "black"},
         "encoding": {"y": {"datum": 0, "type": "quantitative"}}},
        {"transform": [{"filter": {"field": "serie", "oneOf": ["120 euros/Tm maíz y 0,65 euros/kg N", "240 euros/Tm maíz y 0,65 euros/kg N"]}}],
         "mark": {"type": "point", "shape": "triangle-up", "filled": true, "stroke": "black", "strokeWidth": 3.5, "size": 1400, "opacity": 1},
         "encoding": {"x": {"field": "dosis", "type": "quantitative"}, "y": {"field": "retorno", "type": "quantitative"},
           "fill": {"field": "serie", "type": "nominal", "scale": {"domain": ["120 euros/Tm maíz y 0,65 euros/kg N", "120 euros/Tm maíz y 1,30 euros/kg N", "240 euros/Tm maíz y 0,65 euros/kg N", "240 euros/Tm maíz y 1,30 euros/kg N"], "range": ["white", "white", "#4cb04c", "#4cb04c"]}}}},
        {"transform": [{"filter": {"field": "serie", "oneOf": ["120 euros/Tm maíz y 1,30 euros/kg N", "240 euros/Tm maíz y 1,30 euros/kg N"]}}],
         "mark": {"type": "point", "shape": "square", "filled": true, "stroke": "black", "strokeWidth": 3.5, "size": 1150, "opacity": 1},
         "encoding": {"x": {"field": "dosis", "type": "quantitative"}, "y": {"field": "retorno", "type": "quantitative"},
           "fill": {"field": "serie", "type": "nominal", "scale": {"domain": ["120 euros/Tm maíz y 0,65 euros/kg N", "120 euros/Tm maíz y 1,30 euros/kg N", "240 euros/Tm maíz y 0,65 euros/kg N", "240 euros/Tm maíz y 1,30 euros/kg N"], "range": ["white", "white", "#4cb04c", "#4cb04c"]}}}},
        {"transform": [{"aggregate": [{"op": "count", "as": "n"}]}],
         "mark": {"type": "text", "text": ["Zaragoza", "(Aspersión)"], "font": "Liberation Sans", "fontSize": 62, "fontWeight": "bold", "align": "center", "baseline": "alphabetic", "lineHeight": 73, "color": "black"},
         "encoding": {"x": {"datum": 161.5, "type": "quantitative"}, "y": {"datum": 744, "type": "quantitative"}}}
      ]
    }
  ],
  "config": {
    "view": {"stroke": "black", "strokeWidth": 7},
    "font": "Liberation Sans",
    "axis": {"domain": false, "grid": false, "tickColor": "black", "tickWidth": 4,
             "labelColor": "black", "labelFont": "Liberation Sans", "labelFontWeight": "bold",
             "titleColor": "black", "titleFont": "Liberation Sans", "titleFontWeight": "bold",
             "labelFlush": false, "labelOverlap": false, "labelBound": false},
    "axisY": {"labelFont": "DejaVu Sans", "labelFontSize": 64, "tickSize": 13, "labelPadding": 24},
    "axisX": {"labelFont": "DejaVu Sans", "labelFontSize": 52, "tickSize": 16, "labelAngle": -45, "labelAlign": "center", "labelBaseline": "middle", "labelPadding": 47, "labelOffset": -18}
  }
}
